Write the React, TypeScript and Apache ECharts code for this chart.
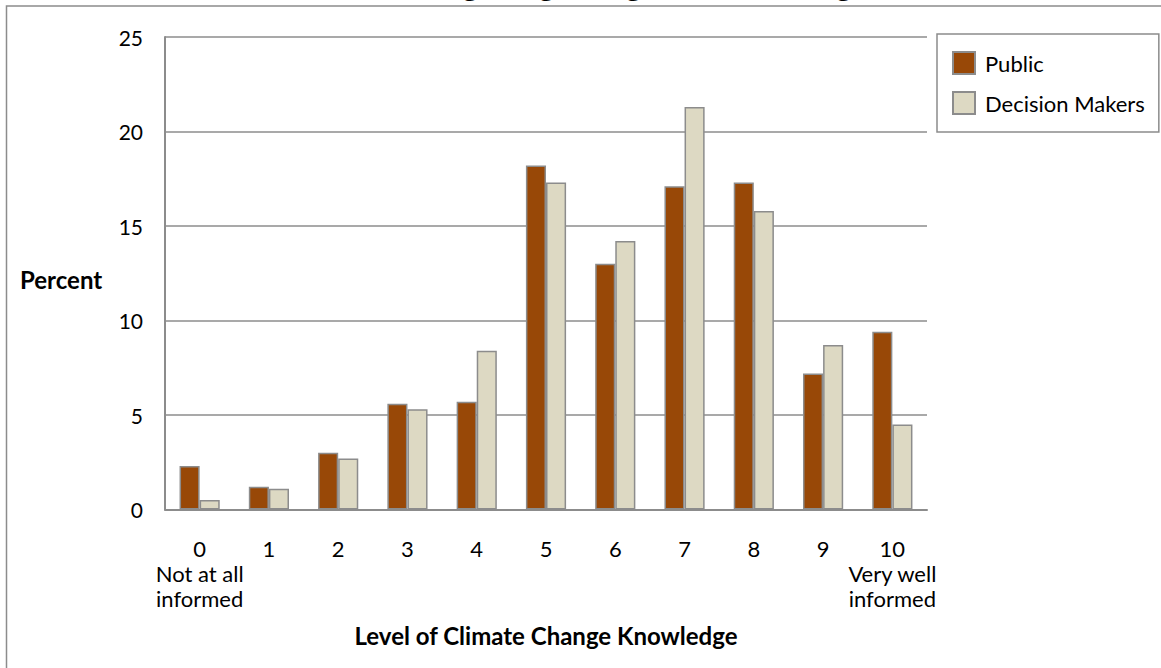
import React, { useEffect, useRef } from "react";
import * as echarts from "echarts";

const categories = ["0", "1", "2", "3", "4", "5", "6", "7", "8", "9", "10"];
const categoryLabels = [
  "0\nNot at all\ninformed",
  "1",
  "2",
  "3",
  "4",
  "5",
  "6",
  "7",
  "8",
  "9",
  "10\nVery well\ninformed",
];
const publicValues = [2.3, 1.2, 3.0, 5.6, 5.7, 18.2, 13.0, 17.1, 17.3, 7.2, 9.4];
const decisionMakerValues = [0.5, 1.1, 2.7, 5.3, 8.4, 17.3, 14.2, 21.3, 15.8, 8.7, 4.5];
const seriesNames = ["Public", "Decision Makers"];
const yAxisTitle = "Percent";
const xAxisTitle = "Level of Climate Change Knowledge";
const chartTitle = "Knowledge Regarding Climate Change";

const FONT = "Lato";
const GREY = "#8c8c8c";

export default function App() {
  const ref = useRef<HTMLDivElement>(null);
  useEffect(() => {
    if (!ref.current) return;
    const chart = echarts.init(ref.current, undefined, { renderer: "svg" });

    // size title so its descenders land like the reference
    const cv = document.createElement("canvas");
    const ctx = cv.getContext("2d")!;
    ctx.font = `bold 100px ${FONT}`;
    const wK = ctx.measureText("Knowled").width;
    const wg = ctx.measureText("g").width;
    const wEnd = ctx.measureText("Knowledge Regarding Climate Chan").width;
    const tSize = (100 * 373) / Math.max(1, wEnd - wK);
    const tX = 470 - ((wK + wg / 2) * tSize) / 100;

    chart.setOption({
      animation: false,
      textStyle: { fontFamily: FONT },
      graphic: [
        {
          type: "rect",
          shape: { x: 6.5, y: 6, width: 1300, height: 800 },
          style: { fill: "none", stroke: GREY, lineWidth: 1.5 },
          silent: true,
        },
        {
          type: "text",
          x: tX,
          y: -1,
          style: {
            text: chartTitle,
            font: `bold ${tSize.toFixed(1)}px ${FONT}`,
            fill: "#000",
            textAlign: "left",
            textVerticalAlign: "bottom",
          },
        },
        {
          type: "text",
          x: 20,
          y: 279,
          style: {
            text: yAxisTitle,
            font: `bold 24px ${FONT}`,
            fill: "#000",
            textAlign: "left",
            textVerticalAlign: "middle",
          },
        },
      ],
      legend: {
        orient: "vertical",
        left: 937,
        top: 34,
        padding: [17, 14, 17, 15],
        itemGap: 16,
        itemWidth: 22,
        itemHeight: 22,
        icon: "rect",
        borderColor: GREY,
        borderWidth: 1.5,
        borderRadius: 0,
        textStyle: {
          fontSize: 22,
          lineHeight: 22,
          color: "#000",
          fontFamily: FONT,
          padding: [0, 0, 0, 5],
        },
        data: seriesNames,
      },
      grid: { left: 165, right: 234, top: 37, bottom: 158.5 },
      xAxis: {
        type: "category",
        data: categories,
        axisLine: { show: true, lineStyle: { color: GREY, width: 2 } },
        axisTick: { show: false },
        axisLabel: {
          interval: 0,
          margin: 26,
          fontSize: 22,
          lineHeight: 25,
          color: "#000",
          fontFamily: FONT,
          verticalAlign: "top",
          formatter: (_v: string, i: number) => categoryLabels[i],
        },
        name: xAxisTitle,
        nameLocation: "middle",
        nameGap: 114,
        nameTextStyle: { fontSize: 24, fontWeight: "bold", color: "#000", fontFamily: FONT },
      },
      yAxis: {
        type: "value",
        min: 0,
        max: 25,
        interval: 5,
        axisLine: { show: true, lineStyle: { color: GREY, width: 2 } },
        axisTick: { show: false },
        axisLabel: { margin: 22, fontSize: 21, color: "#000", fontFamily: FONT },
        splitLine: { show: true, lineStyle: { color: GREY, width: 1.5 } },
      },
      series: [
        {
          name: seriesNames[0],
          type: "bar",
          data: publicValues,
          barGap: "0%",
          barCategoryGap: "42%",
          itemStyle: { color: "#984807", borderColor: GREY, borderWidth: 1.5 },
        },
        {
          name: seriesNames[1],
          type: "bar",
          data: decisionMakerValues,
          barGap: "0%",
          barCategoryGap: "42%",
          itemStyle: { color: "#DDD9C3", borderColor: GREY, borderWidth: 1.5 },
        },
      ],
    });
    return () => chart.dispose();
  }, []);
  return (
    <div
      ref={ref}
      style={{ position: "fixed", left: 0, top: 0, width: 1161, height: 668, background: "#fff" }}
    />
  );
}
